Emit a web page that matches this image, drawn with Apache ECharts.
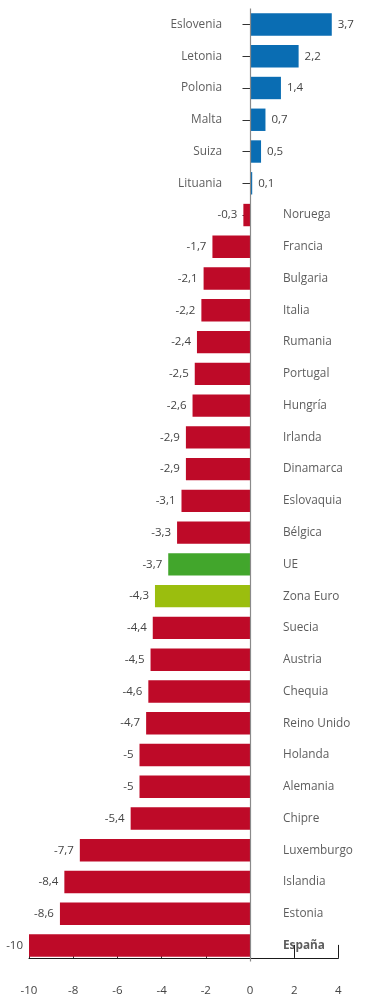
<!DOCTYPE html>
<html>
<head>
<meta charset="utf-8">
<script src="https://cdn.jsdelivr.net/npm/echarts@6/dist/echarts.min.js"></script>
<style>html,body{margin:0;padding:0;background:#fff}#c{width:365px;height:999px}</style>
</head>
<body>
<div id="c"></div>
<script>
const categories = ['Eslovenia','Letonia','Polonia','Malta','Suiza','Lituania','Noruega','Francia','Bulgaria','Italia','Rumania','Portugal','Hungría','Irlanda','Dinamarca','Eslovaquia','Bélgica','UE','Zona Euro','Suecia','Austria','Chequia','Reino Unido','Holanda','Alemania','Chipre','Luxemburgo','Islandia','Estonia','España'];
const values = [3.7,2.2,1.4,0.7,0.5,0.1,-0.3,-1.7,-2.1,-2.2,-2.4,-2.5,-2.6,-2.9,-2.9,-3.1,-3.3,-3.7,-4.3,-4.4,-4.5,-4.6,-4.7,-5,-5,-5.4,-7.7,-8.4,-8.6,-10];
const xTicks = [-10,-8,-6,-4,-2,0,2,4];

const FONT = '"Open Sans", sans-serif';
function colorFor(name, v) {
  if (name === 'UE') return '#42a62c';
  if (name === 'Zona Euro') return '#9bbe0e';
  return v >= 0 ? '#0a6db3' : '#be0a28';
}
const fmt = v => String(v).replace('.', ',');

const barData = values.map((v, i) => ({
  value: v,
  itemStyle: { color: colorFor(categories[i], v) },
  label: { position: v >= 0 ? 'right' : 'left' }
}));
const nameData = categories.map((c, i) => {
  const pos = values[i] >= 0;
  return {
    value: [0, c],
    label: {
      position: pos ? 'left' : 'right',
      distance: pos ? 28 : 33,
      fontWeight: c === 'España' ? 'bold' : 'normal'
    }
  };
});

const chart = echarts.init(document.getElementById('c'), null, { renderer: 'canvas' });
chart.setOption({
  animation: false,
  grid: { left: 29, right: 26.6, top: 8.6, bottom: 37.6, containLabel: false },
  xAxis: {
    type: 'value', min: -10, max: 4, interval: 2, offset: -3.5,
    axisLine: { show: true, onZero: false, lineStyle: { color: '#1a1a1a', width: 1 } },
    axisTick: { show: true, inside: true, length: 13, lineStyle: { color: '#1a1a1a' } },
    axisLabel: { color: '#444', fontSize: 11.5, fontFamily: FONT, margin: 27,
      formatter: v => xTicks.includes(v) ? fmt(v) : '' },
    splitLine: { show: false }
  },
  yAxis: {
    type: 'category', data: categories, inverse: true,
    axisLine: { show: false },
    axisTick: { show: true, alignWithLabel: true, length: 7.5, lineStyle: { color: '#333' } },
    axisLabel: { show: false }
  },
  series: [
    {
      type: 'bar', data: barData, barWidth: 22.4, z: 2,
      label: { show: true, distance: 6, color: '#444', fontSize: 11.5, fontFamily: FONT,
        formatter: p => fmt(p.value) }
    },
    {
      type: 'scatter', data: nameData, symbolSize: 0, z: 3, silent: true,
      label: { show: true, color: '#333', fontSize: 11.8, fontFamily: FONT,
        formatter: p => p.value[1] },
      markLine: {
        silent: true, symbol: 'none', z: 4,
        label: { show: false },
        lineStyle: { color: '#8a8a8a', width: 1.2, type: 'solid' },
        data: [{ xAxis: 0 }]
      }
    }
  ]
});
</script>
</body>
</html>
